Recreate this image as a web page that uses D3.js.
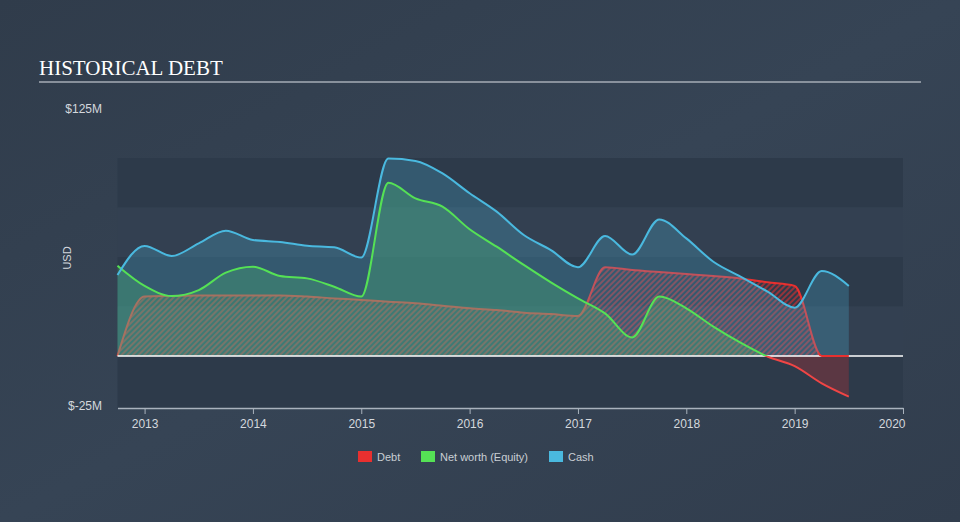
<!DOCTYPE html>
<html><head><meta charset="utf-8">
<script src="https://cdn.jsdelivr.net/npm/d3@7"></script>
<style>
html,body{margin:0;padding:0;background:#344152;}
svg{display:block;}
</style></head>
<body>
<svg id="chart" width="960" height="522"></svg>
<script>
// Quarterly dates (fractional years)
const dates = [2012.75,2013.0,2013.25,2013.5,2013.75,2014.0,2014.25,2014.5,2014.75,2015.0,2015.25,2015.5,2015.75,2016.0,2016.25,2016.5,2016.75,2017.0,2017.25,2017.5,2017.75,2018.0,2018.25,2018.5,2018.75,2019.0,2019.25,2019.5];
const debt   = [0,30.0,30.3,30.5,30.6,30.6,30.6,30.0,29.1,28.3,27.4,26.6,25.4,24.1,23.2,21.9,21.2,20.2,44.8,43.4,42.4,41.4,40.4,39.2,37.2,35.4,0,0];
const equity = [45.6,35.4,30.3,33.3,42.1,45.1,40.4,39.2,35.0,30.0,87.5,79.6,75.4,64.0,55.2,46.0,37.2,29.1,21.5,9.4,30.0,24.1,14.8,6.7,-0.3,-5.1,-13.8,-20.5];
const cash   = [40.9,55.6,50.5,56.9,63.3,58.6,57.6,55.7,54.9,49.7,99.7,98.5,92.2,82.2,72.9,61.1,53.5,44.8,60.6,51.2,69.0,59.4,47.6,40.1,32.5,24.4,42.9,35.4];
const xTicks = [2013,2014,2015,2016,2017,2018,2019,2020];
const yLabels = [125,-25];
const legendItems = ["Debt","Net worth (Equity)","Cash"];
const legendColors = ["#e8302f","#55e155","#4ab9df"];

const svg = d3.select("#chart");
const W = 960, H = 522;
const defs = svg.append("defs");
const bg = defs.append("linearGradient").attr("id","bg").attr("x1",0).attr("y1",0).attr("x2",1).attr("y2",1);
bg.append("stop").attr("offset","0%").attr("stop-color","#303c4b");
bg.append("stop").attr("offset","50%").attr("stop-color","#364455");
bg.append("stop").attr("offset","100%").attr("stop-color","#313d4d");
svg.append("rect").attr("width",W).attr("height",H).attr("fill","url(#bg)");

const x = d3.scaleLinear().domain([2012.75,2020]).range([117.5,903]);
const y = d3.scaleLinear().domain([-25,125]).range([405.5,108.5]);

// plot bands
const bandEdges = [100,75,50,25,0,-25];
for(let i=0;i<bandEdges.length-1;i++){
  const top = y(bandEdges[i]);
  const bot = i===bandEdges.length-2 ? 408 : y(bandEdges[i+1]);
  svg.append("rect").attr("x",117.5).attr("y",top).attr("width",903-117.5).attr("height",bot-top)
    .attr("fill", i%2===0 ? "#2d3a4a" : "#334051");
}

// hatch pattern
const pat = defs.append("pattern").attr("id","hatch").attr("patternUnits","userSpaceOnUse")
  .attr("width",4).attr("height",4).attr("patternTransform","rotate(45)");
pat.append("rect").attr("width",2).attr("height",4).attr("fill","#e8302f").attr("opacity",0.55);

// clip paths
defs.append("clipPath").attr("id","above").append("rect").attr("x",0).attr("y",0).attr("width",W).attr("height",y(0));
defs.append("clipPath").attr("id","below").append("rect").attr("x",0).attr("y",y(0)).attr("width",W).attr("height",H-y(0));
defs.append("clipPath").attr("id","tail").append("rect").attr("x",x(2019.22)).attr("y",y(3)).attr("width",W).attr("height",H);

const pts = (arr)=>arr.map((v,i)=>[dates[i],v]);
const curve = d3.curveMonotoneX;
const area = d3.area().x(d=>x(d[0])).y0(y(0)).y1(d=>y(d[1])).curve(curve);
const line = d3.line().x(d=>x(d[0])).y(d=>y(d[1])).curve(curve);

// debt hatch
svg.append("path").attr("d",area(pts(debt))).attr("fill","url(#hatch)");
svg.append("path").attr("d",line(pts(debt))).attr("fill","none").attr("stroke","#e8302f").attr("stroke-width",2);

// equity fill
svg.append("path").attr("d",area(pts(equity))).attr("fill","#55e155").attr("opacity",0.24).attr("clip-path","url(#above)");
svg.append("path").attr("d",area(pts(equity))).attr("fill","#e8302f").attr("opacity",0.25).attr("clip-path","url(#below)");
// cash fill
svg.append("path").attr("d",area(pts(cash))).attr("fill","#4ab9df").attr("opacity",0.25);

// zero line
svg.append("line").attr("x1",117.5).attr("x2",903).attr("y1",y(0)).attr("y2",y(0)).attr("stroke","#ffffff").attr("stroke-width",1.5);
// debt tail along zero on top
svg.append("path").attr("d",line(pts(debt))).attr("fill","none").attr("stroke","#e8302f").attr("stroke-width",2).attr("clip-path","url(#tail)");

// lines
svg.append("path").attr("d",line(pts(equity))).attr("fill","none").attr("stroke","#55e155").attr("stroke-width",2).attr("clip-path","url(#above)");
svg.append("path").attr("d",line(pts(equity))).attr("fill","none").attr("stroke","#f04545").attr("stroke-width",2).attr("clip-path","url(#below)");
svg.append("path").attr("d",line(pts(cash))).attr("fill","none").attr("stroke","#4ab9df").attr("stroke-width",2);

// x axis
const xAxis = d3.axisBottom(x).tickValues(xTicks).tickFormat(d3.format("d")).tickSize(6).tickSizeOuter(0);
const gx = svg.append("g").attr("transform","translate(0,408)").call(xAxis);
gx.select(".domain").attr("stroke","#a9b2bd").attr("stroke-width",1.5);
gx.selectAll(".tick line").attr("stroke","#a9b2bd");
gx.selectAll(".tick text").attr("fill","#d4d8dd").attr("font-family","Liberation Sans, Arial, sans-serif").attr("font-size",12).attr("dy","0.9em");
gx.selectAll(".tick text").filter(d=>d===2020).attr("text-anchor","end").attr("dx","2");

// y labels
svg.selectAll(".ylab").data(yLabels).enter().append("text")
  .attr("x",102).attr("y",d=>y(d)).attr("dy","0.35em").attr("text-anchor","end")
  .attr("fill","#d4d8dd").attr("font-family","Liberation Sans, Arial, sans-serif").attr("font-size",12)
  .text(d=>"$"+d+"M");
svg.append("text").attr("transform","translate(71,258) rotate(-90)").attr("text-anchor","middle")
  .attr("fill","#d4d8dd").attr("font-family","Liberation Sans, Arial, sans-serif").attr("font-size",11).text("USD");

// title
svg.append("text").attr("x",39).attr("y",75).attr("fill","#ffffff")
  .attr("font-family","Liberation Serif, Times New Roman, serif").attr("font-size",21).text("HISTORICAL DEBT");
svg.append("line").attr("x1",39).attr("x2",921).attr("y1",82).attr("y2",82).attr("stroke","#a6adb6").attr("stroke-width",1.5);

// legend
const legX = [358,421,549];
const lg = svg.selectAll(".leg").data(legendItems).enter().append("g").attr("transform",(d,i)=>`translate(${legX[i]},451)`);
lg.append("rect").attr("width",14).attr("height",11).attr("fill",(d,i)=>legendColors[i]);
lg.append("text").attr("x",19).attr("y",6).attr("dy","0.35em").attr("fill","#c9ced4")
  .attr("font-family","Liberation Sans, Arial, sans-serif").attr("font-size",11).text(d=>d);
</script>
</body></html>
